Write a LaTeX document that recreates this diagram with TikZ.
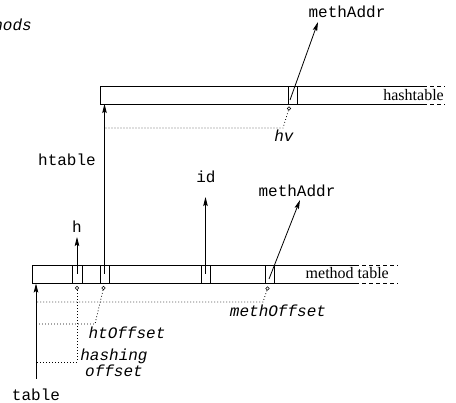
\documentclass[tikz,border=0pt]{standalone}
\usepackage{fontspec}
\setmainfont{Liberation Serif}
\setmonofont{Liberation Mono}
\usetikzlibrary{arrows.meta}
\begin{document}
\begin{tikzpicture}[x=1pt,y=-1pt,
  every node/.style={inner sep=0pt},
  lbl/.style={font=\fontsize{16}{19}\selectfont\ttfamily},
  ilbl/.style={font=\fontsize{16}{19}\selectfont\ttfamily\itshape},
  tlbl/.style={font=\fontsize{16}{19}\selectfont\rmfamily},
  tline/.style={draw, line width=0.8pt},
  tend/.style={draw, line width=0.8pt, dash pattern=on 4pt off 3pt},
  ptr/.style={draw, line width=0.8pt, -{Stealth[length=9pt,width=4.5pt,inset=1.5pt]}},
  offs/.style={draw, line width=0.8pt, dash pattern=on 0.8pt off 2.2pt},
  cellbox/.style={draw, line width=0.8pt, minimum height=18pt},
  knob/.style={draw, circle, line width=0.6pt, minimum size=3.6pt}
]
\useasboundingbox (0,0) rectangle (456,403);
\clip (0,0) rectangle (456,403);

% title, running off the left edge
\node[ilbl, anchor=base east] (title) at (32,31) {methods};

% ---- hashtable ----
\draw[tline] (423,86) -- (100,86) -- (100,104) -- (423,104);
\draw[tend] (423,86) -- (445,86) (423,104) -- (445,104);
\node[tlbl, anchor=base east] (htname) at (444,101) {hashtable};
\node[cellbox, minimum width=9pt] (hcell) at (292.5,95) {};
\coordinate (hcellIn) at (290,100);
\coordinate (hcellTip) at (318,22);
\node[lbl, anchor=base] (maTop) at (347,18) {methAddr};
\draw[ptr] (hcellIn) -- (hcellTip);

% ---- method table ----
\draw[tline] (355,265) -- (32,265) -- (32,283) -- (355,283);
\draw[tend] (355,265) -- (398,265) (355,283) -- (398,283);
\node[tlbl, anchor=base east] (mtname) at (389,279) {method table};

\node[cellbox, minimum width=10pt] (c1) at (77,274) {};
\node[cellbox, minimum width=9pt] (c2) at (104.5,274) {};
\node[cellbox, minimum width=9pt] (c3) at (205.5,274) {};
\node[cellbox, minimum width=9.5pt] (c4) at (270,274) {};

% pointers out of the method table
\coordinate (hTip) at (77,237);
\coordinate (htBot) at (104.5,104);
\coordinate (idTip) at (205.5,197);
\coordinate (c4In) at (269,279);
\coordinate (c4Tip) at (300,200);
\draw[ptr] (c1.center) -- (hTip);
\draw[ptr] (c2.center) -- (htBot);
\draw[ptr] (c3.center) -- (idTip);
\draw[ptr] (c4In) -- (c4Tip);

\node[lbl, anchor=base] (hLbl) at (77,233) {h};
\node[lbl, anchor=base] (htLbl) at (67,166) {htable};
\node[lbl, anchor=base] (idLbl) at (206,183) {id};
\node[lbl, anchor=base] (maMid) at (297,197) {methAddr};

% offset markers under the cells
\node[knob] (k0) at (289,108.5) {};
\node[knob] (k1) at (77,288) {};
\node[knob] (k2) at (103.5,288) {};
\node[knob] (k4) at (267.5,288.5) {};

% dotted offset guides
\coordinate (hvA) at (283,128);
\coordinate (hvB) at (104,128);
\draw[offs] (k0) -- (hvA) -- (hvB);

\coordinate (moA) at (263,302);
\coordinate (moB) at (36,302);
\draw[offs] (k4) -- (moA) -- (moB);

\coordinate (hoA) at (95,324);
\coordinate (hoB) at (36,324);
\draw[offs] (k2) -- (hoA) -- (hoB);

\coordinate (hsA) at (77,362);
\coordinate (hsB) at (36,362);
\draw[offs] (k1) -- (hsA) -- (hsB);

\node[ilbl, anchor=base] (hvLbl) at (284,142) {hv};
\node[ilbl, anchor=base] (moLbl) at (278,317) {methOffset};
\node[ilbl, anchor=base] (hoLbl) at (127,339) {htOffset};
\node[ilbl, anchor=base] (hsLbl) at (114,361) {hashing};
\node[ilbl, anchor=base] (ofLbl) at (114,377) {offset};

% base pointer of the method table
\coordinate (tblBase) at (36,379);
\coordinate (tblTip) at (36,283.5);
\draw[ptr] (tblBase) -- (tblTip);
\node[lbl, anchor=base] (tblLbl) at (36,401) {table};
\end{tikzpicture}
\end{document}
